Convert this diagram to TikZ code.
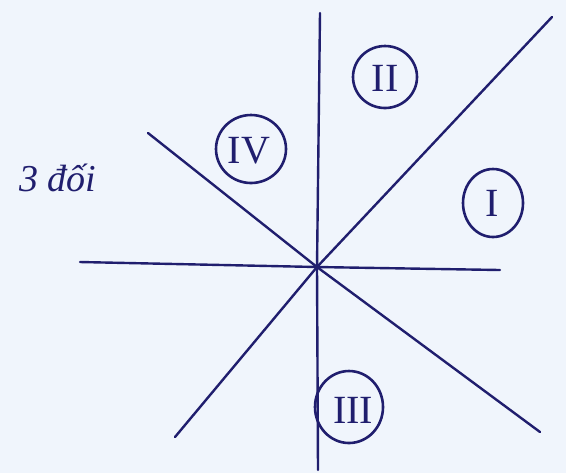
\documentclass[tikz,border=0pt]{standalone}
\usepackage{fontspec}
\setmainfont{Liberation Serif}
\definecolor{ink}{RGB}{32,30,110}
\definecolor{paper}{RGB}{240,245,252}
\begin{document}
\begin{tikzpicture}[x=0.5pt,y=-0.5pt,
  pen/.style={draw=ink,line width=1.2pt,line cap=round,line join=round},
  numeral/.style={text=ink,font=\fontsize{20}{22}\selectfont}]
\fill[paper] (0,0) rectangle (566,473);
\useasboundingbox (0,0) rectangle (566,473);
% lines through the centre
\coordinate (c) at (317,267);
\coordinate (vt) at (320,13);
\coordinate (vb) at (318,470);
\coordinate (hl) at (80,262);
\coordinate (hr) at (500,270);
\coordinate (d1t) at (552,17);
\coordinate (d1b) at (175,437);
\coordinate (d2t) at (148,133);
\coordinate (d2b) at (540,432);
\draw[pen] (vt) -- (c) -- (vb);
\draw[pen] (hl) -- (c) -- (hr);
\draw[pen] (d1b) -- (c) -- (d1t);
\draw[pen] (d2t) -- (c) -- (d2b);
% circled numerals
\draw[pen,line width=1.3pt] (385,77) ellipse [x radius=32,y radius=31];
\node[numeral] (n2) at (385,78) {II};
\draw[pen,line width=1.3pt] (251,149) ellipse [x radius=35,y radius=34];
\node[numeral] (n4) at (249,151) {IV};
\draw[pen,line width=1.3pt] (493,203) ellipse [x radius=30,y radius=34];
\node[numeral] (n1) at (492,203) {I};
\draw[pen,line width=1.3pt] (349,407) ellipse [x radius=34,y radius=36];
\node[numeral] (n3) at (353,410) {III};
% side text
\node[text=ink,font=\itshape\fontsize{19}{21}\selectfont] (t) at (58,178) {3 đối};
\end{tikzpicture}
\end{document}
